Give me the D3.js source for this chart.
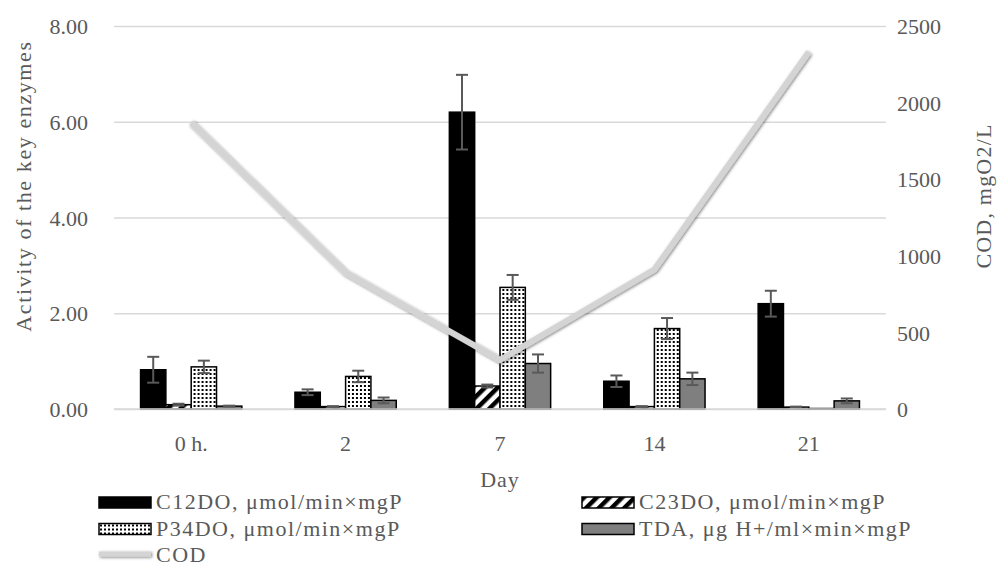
<!DOCTYPE html>
<html>
<head>
<meta charset="utf-8">
<script src="https://cdn.jsdelivr.net/npm/d3@7"></script>
<style>
  body { margin: 0; background: #fff; }
  svg text { font-family: "Liberation Serif", "Times New Roman", serif; fill: #595959; }
</style>
</head>
<body>
<svg width="999" height="570"></svg>
<script>
"use strict";

// data
const days = ["0 h.", "2", "7", "14", "21"];
const c12do = [0.82, 0.35, 6.20, 0.58, 2.20];
const c12doErr = [0.27, 0.06, 0.78, 0.12, 0.27];
const c23do = [0.09, 0.05, 0.48, 0.05, 0.04];
const c23doErr = [0.02, 0.01, 0.03, 0.01, 0.01];
const p34do = [0.88, 0.68, 2.54, 1.68, 0.01];
const p34doErr = [0.13, 0.12, 0.26, 0.22, 0.00];
const tda = [0.06, 0.18, 0.95, 0.63, 0.17];
const tdaErr = [0.01, 0.06, 0.19, 0.13, 0.05];
const cod = [1870, 890, 320, 910, 2330];
const leftTicks = [0, 2, 4, 6, 8];
const rightTicks = [0, 500, 1000, 1500, 2000, 2500];

const seriesNames = [
    "C12DO, μmol/min×mgP",
    "C23DO, μmol/min×mgP",
    "P34DO, μmol/min×mgP",
    "TDA, μg H+/ml×min×mgP"
];
const codName = "COD";

const series = [
    {name: seriesNames[0], values: c12do, err: c12doErr, fill: "#000"},
    {name: seriesNames[1], values: c23do, err: c23doErr, fill: "url(#hatch)"},
    {name: seriesNames[2], values: p34do, err: p34doErr, fill: "url(#dots)"},
    {name: seriesNames[3], values: tda, err: tdaErr, fill: "#7f7f7f"}
];

const svg = d3.select("svg");
const plot = {left: 114, right: 886, top: 26, bottom: 409};
const gridColor = "#d9d9d9";
const textColor = "#595959";
const lineColor = "#d4d4d4";
const fontSize = 22;

// patterns + line shadow
const defs = svg.append("defs");
const hatch = defs.append("pattern")
    .attr("id", "hatch")
    .attr("patternUnits", "userSpaceOnUse")
    .attr("width", 9).attr("height", 9)
    .attr("patternTransform", "rotate(45)");
hatch.append("rect").attr("width", 9).attr("height", 9).attr("fill", "#fff");
hatch.append("rect").attr("width", 4.5).attr("height", 9).attr("fill", "#000");

const dots = defs.append("pattern")
    .attr("id", "dots")
    .attr("patternUnits", "userSpaceOnUse")
    .attr("width", 4).attr("height", 4);
dots.append("rect").attr("width", 4).attr("height", 4).attr("fill", "#fff");
dots.append("rect").attr("x", 1).attr("y", 1).attr("width", 2).attr("height", 2).attr("fill", "#000");

const shadow = defs.append("filter")
    .attr("id", "glow")
    .attr("filterUnits", "userSpaceOnUse")
    .attr("x", -1000).attr("y", -1000)
    .attr("width", 3000).attr("height", 3000);
shadow.append("feDropShadow")
    .attr("dx", 1).attr("dy", 1)
    .attr("stdDeviation", 1.8)
    .attr("flood-color", "#000")
    .attr("flood-opacity", 0.5);

// scales
const x = d3.scaleBand()
    .domain(days)
    .range([plot.left, plot.right])
    .paddingInner(0.344)
    .paddingOuter(0.172);

const xs = d3.scaleBand()
    .domain(seriesNames)
    .range([0, x.bandwidth()]);

const yL = d3.scaleLinear().domain([0, 8]).range([plot.bottom, plot.top]);
const yR = d3.scaleLinear().domain([0, 2500]).range([plot.bottom, plot.top]);

// grid lines
svg.append("g")
    .attr("class", "grid")
    .attr("transform", `translate(${plot.left}, 0)`)
    .call(d3.axisLeft(yL).tickValues(leftTicks)
        .tickSize(-(plot.right - plot.left)).tickFormat(""))
    .call(g => g.select(".domain").remove())
    .call(g => g.selectAll("line").attr("stroke", gridColor).attr("stroke-width", 1.5));

// left axis labels
svg.append("g")
    .attr("class", "y_axis_left")
    .attr("transform", `translate(${plot.left - 26}, 0)`)
    .call(d3.axisLeft(yL).tickValues(leftTicks).tickSize(0).tickFormat(d3.format(".2f")))
    .call(g => g.select(".domain").remove())
    .call(g => g.selectAll("text").attr("font-size", fontSize).attr("fill", textColor)
        .attr("dy", "0.35em").attr("x", 0));

// right axis labels
svg.append("g")
    .attr("class", "y_axis_right")
    .attr("transform", `translate(${plot.right + 11}, 0)`)
    .call(d3.axisRight(yR).tickValues(rightTicks).tickSize(0).tickFormat(d3.format("d")))
    .call(g => g.select(".domain").remove())
    .call(g => g.selectAll("text").attr("font-size", fontSize).attr("fill", textColor)
        .attr("dy", "0.35em").attr("x", 0));

// bars
const groups = svg.append("g")
    .attr("class", "bars")
    .selectAll("g")
    .data(days)
    .enter()
    .append("g")
    .attr("transform", d => `translate(${x(d)}, 0)`);

groups.each(function(day, i) {
    const g = d3.select(this);
    series.forEach(s => {
        const v = s.values[i];
        g.append("rect")
            .attr("x", xs(s.name))
            .attr("y", yL(v))
            .attr("width", xs.bandwidth())
            .attr("height", yL(0) - yL(v))
            .attr("fill", s.fill)
            .attr("stroke", "#000")
            .attr("stroke-width", 1.5);
    });
});

// base line
svg.append("line")
    .attr("x1", plot.left).attr("x2", plot.right)
    .attr("y1", yL(0)).attr("y2", yL(0))
    .attr("stroke", gridColor).attr("stroke-width", 1.5);

// error bars
groups.each(function(day, i) {
    const g = d3.select(this);
    series.forEach(s => {
        const v = s.values[i], e = s.err[i];
        if (!e) return;
        const cx = xs(s.name) + xs.bandwidth() / 2;
        const eb = g.append("g").attr("stroke", "#595959").attr("stroke-width", 2);
        eb.append("line").attr("x1", cx).attr("x2", cx).attr("y1", yL(v - e)).attr("y2", yL(v + e));
        eb.append("line").attr("x1", cx - 6).attr("x2", cx + 6).attr("y1", yL(v + e)).attr("y2", yL(v + e));
        eb.append("line").attr("x1", cx - 6).attr("x2", cx + 6).attr("y1", yL(v - e)).attr("y2", yL(v - e));
    });
});

// COD line
const codLine = d3.line()
    .x((d, i) => x(days[i]) + x.bandwidth() / 2)
    .y(d => yR(d));

svg.append("path")
    .datum(cod)
    .attr("d", codLine)
    .attr("fill", "none")
    .attr("stroke", lineColor)
    .attr("stroke-width", 6)
    .attr("stroke-linejoin", "miter")
    .attr("filter", "url(#glow)");

// x axis labels
svg.append("g")
    .attr("class", "x_axis")
    .attr("transform", `translate(0, ${plot.bottom})`)
    .call(d3.axisBottom(x).tickSize(0))
    .call(g => g.select(".domain").remove())
    .call(g => g.selectAll("text").attr("font-size", fontSize).attr("fill", textColor)
        .attr("dy", 0).attr("y", 42));

// axis titles
svg.append("text")
    .text("Day")
    .attr("x", (plot.left + plot.right) / 2)
    .attr("y", 487)
    .attr("text-anchor", "middle")
    .attr("font-size", fontSize)
    .attr("letter-spacing", 1);

svg.append("text")
    .text("Activity of the key enzymes")
    .attr("transform", `translate(31, 186) rotate(-90)`)
    .attr("text-anchor", "middle")
    .attr("font-size", fontSize)
    .attr("letter-spacing", 1.6);

svg.append("text")
    .text("COD, mgO2/L")
    .attr("transform", `translate(991, 196) rotate(-90)`)
    .attr("text-anchor", "middle")
    .attr("font-size", fontSize)
    .attr("letter-spacing", 1.2);

// legend
const legendItems = [
    {name: seriesNames[0], fill: "#000", col: 0, row: 0},
    {name: seriesNames[1], fill: "url(#hatch)", col: 1, row: 0},
    {name: seriesNames[2], fill: "url(#dots)", col: 0, row: 1},
    {name: seriesNames[3], fill: "#7f7f7f", col: 1, row: 1},
    {name: codName, line: true, col: 0, row: 2}
];
const legendCols = [99, 582],
      legendTop = 509,
      legendLineSpace = 26.5,
      legendBoxWidth = 52,
      legendBoxHeight = 11,
      legendBoxToText = 57;

const legend = svg.append("g").attr("class", "legend");
legend.selectAll("g")
    .data(legendItems)
    .enter()
    .append("g")
    .attr("transform", d => `translate(${legendCols[d.col]}, ${legendTop + d.row * legendLineSpace})`)
    .each(function(d) {
        const g = d3.select(this);
        if (d.line) {
            g.append("line")
                .attr("x1", 0).attr("x2", legendBoxWidth)
                .attr("y1", -8).attr("y2", -8)
                .attr("stroke", lineColor)
                .attr("stroke-width", 5)
                .attr("filter", "url(#glow)");
        } else {
            g.append("rect")
                .attr("x", 0).attr("y", -legendBoxHeight - 1)
                .attr("width", legendBoxWidth).attr("height", legendBoxHeight)
                .attr("fill", d.fill)
                .attr("stroke", "#000")
                .attr("stroke-width", 1.5);
        }
        g.append("text")
            .text(d.name)
            .attr("x", legendBoxToText)
            .attr("y", 0)
            .attr("font-size", fontSize)
            .attr("letter-spacing", 1.5);
    });
</script>
</body>
</html>
